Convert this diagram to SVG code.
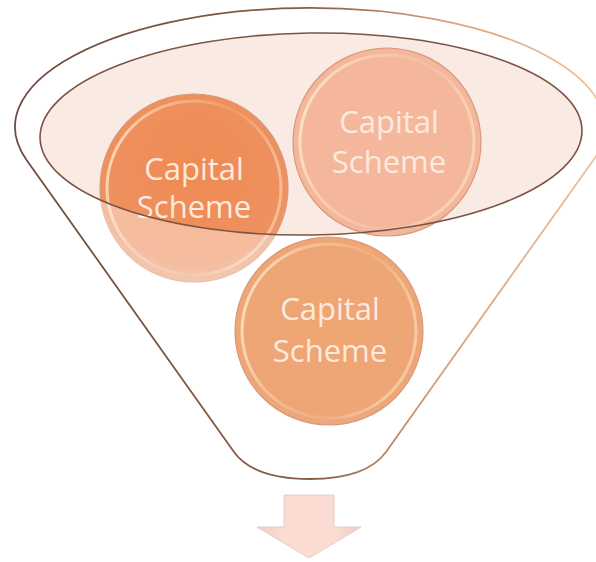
<svg xmlns="http://www.w3.org/2000/svg" width="596" height="562" viewBox="0 0 596 562">
<style>
.lbl{font-family:"Open Sans","Liberation Sans",sans-serif;font-size:31px;fill:#FCEADF;text-anchor:middle}
.rim{fill:none;stroke:#D9987A;stroke-width:1.2}
.glow{fill:none;stroke:url(#gGlow);stroke-width:3}
</style>
<defs>
<linearGradient id="funnelStroke" x1="0" y1="0" x2="1" y2="0">
<stop offset="0" stop-color="#6E4C3E"/>
<stop offset="0.5" stop-color="#8A5C44"/>
<stop offset="0.72" stop-color="#D8A07A"/>
<stop offset="1" stop-color="#EEC39D"/>
</linearGradient>
<linearGradient id="gGlow" x1="0" y1="0" x2="1" y2="0.3">
<stop offset="0" stop-color="#FFF3D6" stop-opacity="0.85"/>
<stop offset="0.35" stop-color="#FFF3D6" stop-opacity="0.35"/>
<stop offset="0.7" stop-color="#FFF3D6" stop-opacity="0.1"/>
<stop offset="1" stop-color="#FFF3D6" stop-opacity="0.45"/>
</linearGradient>
<radialGradient id="gLeft" cx="0.5" cy="0.4" r="0.6">
<stop offset="0" stop-color="#F08A52"/>
<stop offset="0.85" stop-color="#EE9160"/>
<stop offset="1" stop-color="#E9A27E"/>
</radialGradient>
<radialGradient id="gRight" cx="0.5" cy="0.45" r="0.6">
<stop offset="0" stop-color="#F6B89C"/>
<stop offset="0.85" stop-color="#F4B79C"/>
<stop offset="1" stop-color="#EDB59E"/>
</radialGradient>
<radialGradient id="gBottom" cx="0.5" cy="0.45" r="0.6">
<stop offset="0" stop-color="#F0A571"/>
<stop offset="0.85" stop-color="#EEA677"/>
<stop offset="1" stop-color="#E8AC88"/>
</radialGradient>
<linearGradient id="gArrow" x1="0" y1="0" x2="1" y2="0">
<stop offset="0" stop-color="#EBCFC6"/>
<stop offset="0.25" stop-color="#FADCD2"/>
<stop offset="0.75" stop-color="#FADCD2"/>
<stop offset="1" stop-color="#EBCFC6"/>
</linearGradient>
<mask id="outsideEllipse" maskUnits="userSpaceOnUse" x="0" y="0" width="596" height="562">
<rect x="0" y="0" width="596" height="562" fill="#fff"/>
<ellipse cx="311" cy="134" rx="271" ry="101" transform="rotate(-0.8 311 134)" fill="#000"/>
</mask>
</defs>
<rect width="596" height="562" fill="#fff"/>
<g id="funnel">
<path d="M26.2,159.4 A295,119 0 1 1 593.8,159.4 L386,452 C370,474 340,479 310,479 C280,479 250,474 234,452 Z" fill="#fff" stroke="url(#funnelStroke)" stroke-width="1.8"/>
</g>
<g id="funnel-mouth">
<ellipse cx="311" cy="134" rx="271" ry="101" transform="rotate(-0.8 311 134)" fill="#FAEAE4"/>
</g>
<g id="node-2">
<circle cx="387" cy="142" r="94" fill="url(#gRight)"/>
<circle cx="387" cy="142" r="87" class="glow"/>
<circle cx="387" cy="142" r="94" class="rim"/>
<text class="lbl" x="389" y="133">Capital</text>
<text class="lbl" x="389" y="173">Scheme</text>
</g>
<g id="node-1">
<circle cx="194" cy="188" r="94" fill="url(#gLeft)"/>
<circle cx="194" cy="188" r="87" class="glow"/>
<circle cx="194" cy="188" r="94" class="rim"/>
<text class="lbl" x="194" y="180">Capital</text>
<text class="lbl" x="194" y="218">Scheme</text>
<circle cx="194" cy="188" r="95" fill="#fff" fill-opacity="0.4" mask="url(#outsideEllipse)"/>
</g>
<g id="node-3">
<circle cx="329" cy="331" r="94" fill="url(#gBottom)"/>
<circle cx="329" cy="331" r="87" class="glow"/>
<circle cx="329" cy="331" r="94" class="rim"/>
<text class="lbl" x="330" y="320">Capital</text>
<text class="lbl" x="330" y="362">Scheme</text>
</g>
<g id="funnel-rim">
<ellipse cx="311" cy="134" rx="271" ry="101" transform="rotate(-0.8 311 134)" fill="none" stroke="#7B5444" stroke-width="1.6"/>
</g>
<g id="connectors">
<g id="arrow">
<path d="M284,495 L334,495 L334,527 L361,527 L309,558 L257,527 L284,527 Z" fill="url(#gArrow)" stroke="#E6CCC4" stroke-width="1"/>
</g>
</g>
</svg>
